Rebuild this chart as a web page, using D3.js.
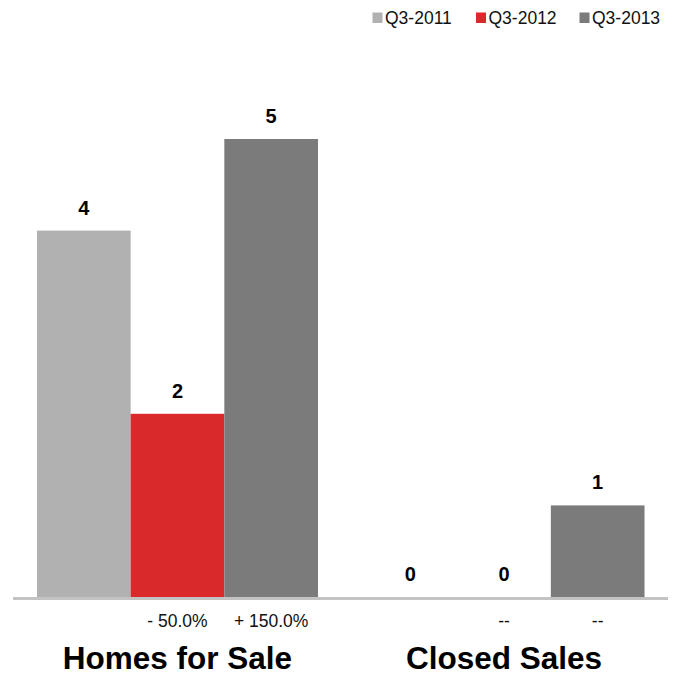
<!DOCTYPE html>
<html>
<head>
<meta charset="utf-8">
<script src="https://cdn.jsdelivr.net/npm/d3@7"></script>
<style>
  html, body { margin: 0; padding: 0; background: #fff; }
  svg { display: block; font-family: "Liberation Sans", Arial, Helvetica, sans-serif; }
</style>
</head>
<body>
<svg id="chart" width="679" height="675"></svg>
<script>
const categories = ['Homes for Sale', 'Closed Sales'];
const seriesNames = ['Q3-2011', 'Q3-2012', 'Q3-2013'];
const homesForSale = [4, 2, 5];
const closedSales = [0, 0, 1];
const changeLabels = [
  ['- 50.0%', '+ 150.0%'],
  ['--', '--']
];
const seriesColors = ['#b1b1b1', '#d9292b', '#7b7b7b'];

const values = [homesForSale, closedSales];

const svg = d3.select('#chart');
const baseY = 597;

const x0 = d3.scaleBand()
  .domain(categories)
  .range([14, 667.5])
  .paddingInner(0.1394)
  .paddingOuter(0.0704);

const x1 = d3.scaleBand()
  .domain(seriesNames)
  .range([0, x0.bandwidth()]);

const y = d3.scaleLinear()
  .domain([0, 5])
  .range([baseY, 139]);

const color = d3.scaleOrdinal()
  .domain(seriesNames)
  .range(seriesColors);

// bar groups
const group = svg.selectAll('g.group')
  .data(categories)
  .enter()
  .append('g')
  .attr('class', 'group')
  .attr('transform', d => `translate(${x0(d)},0)`);

group.selectAll('rect')
  .data((d, i) => values[i].map((v, j) => ({ series: seriesNames[j], value: v })))
  .enter()
  .append('rect')
  .attr('x', d => x1(d.series))
  .attr('y', d => y(d.value))
  .attr('width', x1.bandwidth())
  .attr('height', d => baseY - y(d.value))
  .attr('fill', d => color(d.series));

// value labels
group.selectAll('text.value')
  .data((d, i) => values[i].map((v, j) => ({ series: seriesNames[j], value: v })))
  .enter()
  .append('text')
  .attr('class', 'value')
  .attr('x', d => x1(d.series) + x1.bandwidth() / 2)
  .attr('y', d => y(d.value) - 16)
  .attr('text-anchor', 'middle')
  .attr('font-size', 20)
  .attr('font-weight', 'bold')
  .attr('fill', '#000')
  .text(d => d.value);

// percent change labels under 2nd and 3rd bars
group.selectAll('text.change')
  .data((d, i) => changeLabels[i].map((t, j) => ({ series: seriesNames[j + 1], text: t })))
  .enter()
  .append('text')
  .attr('class', 'change')
  .attr('x', d => x1(d.series) + x1.bandwidth() / 2)
  .attr('y', 627)
  .attr('text-anchor', 'middle')
  .attr('font-size', 17.5)
  .attr('fill', '#111')
  .text(d => d.text);

// baseline
svg.append('line')
  .attr('x1', 13)
  .attr('x2', 668)
  .attr('y1', baseY + 1.5)
  .attr('y2', baseY + 1.5)
  .attr('stroke', '#c3c3c3')
  .attr('stroke-width', 3);

// category labels
svg.selectAll('text.category')
  .data(categories)
  .enter()
  .append('text')
  .attr('class', 'category')
  .attr('x', d => x0(d) + x0.bandwidth() / 2)
  .attr('y', 669)
  .attr('text-anchor', 'middle')
  .attr('font-size', 31.5)
  .attr('font-weight', 'bold')
  .attr('fill', '#000')
  .text(d => d);

// legend
const legendX = [372.5, 476, 579.5];
const legend = svg.selectAll('g.legend')
  .data(seriesNames)
  .enter()
  .append('g')
  .attr('class', 'legend')
  .attr('transform', (d, i) => `translate(${legendX[i]},12.5)`);

legend.append('rect')
  .attr('width', 10)
  .attr('height', 10.5)
  .attr('fill', d => color(d));

legend.append('text')
  .attr('x', 12.5)
  .attr('y', 11.5)
  .attr('font-size', 17.5)
  .attr('fill', '#111')
  .text(d => d);
</script>
</body>
</html>
